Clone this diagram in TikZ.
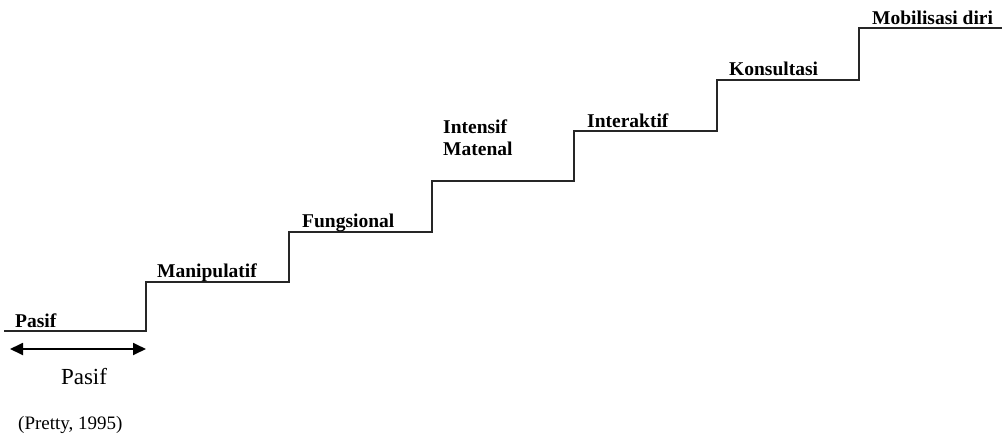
\documentclass[tikz,border=0pt]{standalone}
\usepackage{fontspec}
\setmainfont{Liberation Serif}
\usetikzlibrary{arrows.meta}
\begin{document}
\begin{tikzpicture}[x=1pt,y=-1pt,
  lbl/.style={anchor=base west,inner sep=0pt,font=\fontsize{19.5}{22}\selectfont\bfseries,align=left},
  plain/.style={inner sep=0pt,font=\fontsize{23}{26}\selectfont},
  cite/.style={anchor=base west,inner sep=0pt,font=\fontsize{19}{22}\selectfont},
  stair/.style={line width=1.8pt,line join=miter,draw=black!85},
  dbl/.style={line width=1.8pt,{Triangle[length=13pt,width=12pt]}-{Triangle[length=13pt,width=12pt]}}]
\useasboundingbox (0,0) rectangle (1002,434);
\coordinate (s0) at (4,331);
\coordinate (s7) at (1002,28);
\draw[stair] (s0) -- (146,331) -- (146,282) -- (289,282) -- (289,232) -- (432,232) -- (432,181)
  -- (574,181) -- (574,131) -- (717,131) -- (717,80) -- (859,80) -- (859,28) -- (s7);
\node[lbl] (pasif) at (15,327) {Pasif};
\node[lbl] (manip) at (157,277) {Manipulatif};
\node[lbl] (fung) at (302,227) {Fungsional};
\node[lbl] (intens) at (443,155) {Intensif\\Matenal};
\node[lbl] (inter) at (587,127) {Interaktif};
\node[lbl] (kons) at (729,75) {Konsultasi};
\node[lbl] (mob) at (872,24) {Mobilisasi diri};
\coordinate (a1) at (10,349);
\coordinate (a2) at (146,349);
\draw[dbl] (a1) -- (a2);
\node[plain,anchor=base] (pasif2) at (84,384) {Pasif};
\node[cite] (cite) at (18,429) {(Pretty, 1995)};
\end{tikzpicture}
\end{document}
